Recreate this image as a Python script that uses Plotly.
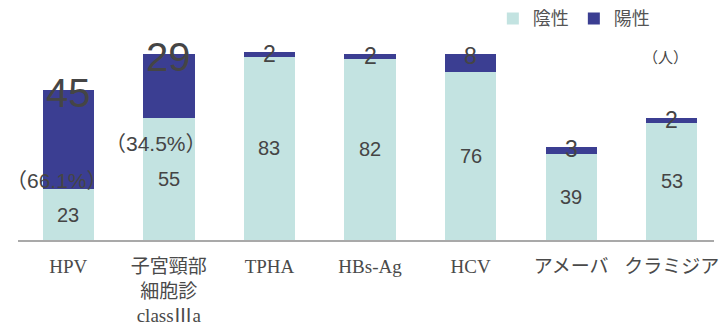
import plotly.graph_objects as go

# Test results: negative / positive counts per screening item
categories = ["HPV", "子宮頸部<br>細胞診<br>classⅢa", "TPHA", "HBs-Ag", "HCV", "アメーバ", "クラミジア"]
negative = [23, 55, 83, 82, 76, 39, 53]
positive = [45, 29, 2, 2, 8, 3, 2]
pct_labels = ["（66.1%）", "（34.5%）"]

NEG_COLOR = "#c3e3e1"
POS_COLOR = "#3b3e92"
TEXT_COLOR = "#454545"

fig = go.Figure()
fig.add_trace(go.Bar(x=categories, y=negative, name="陰性", marker_color=NEG_COLOR,
                     marker_line_width=0))
fig.add_trace(go.Bar(x=categories, y=positive, name="陽性", marker_color=POS_COLOR,
                     marker_line_width=0))

annotations = []
# counts inside the negative segments
for c, n in zip(categories, negative):
    annotations.append(dict(x=c, y=n / 2, text=str(n), showarrow=False,
                            font=dict(size=20, color=TEXT_COLOR, family="Liberation Sans, Arial")))
# positive counts sit on top edge of each stack
for i, (c, n, p) in enumerate(zip(categories, negative, positive)):
    big = i < 2
    annotations.append(dict(x=c, y=n + p, text=str(p), showarrow=False, yanchor="middle",
                            yshift=-3 if big else -2,
                            font=dict(size=40 if big else 23, color=TEXT_COLOR,
                                      family="Liberation Sans, Arial")))
# positive-rate labels
pct_shift = [(-11, 9), (-13, -25)]
for c, n, txt, (dx, dy) in zip(categories, negative, pct_labels, pct_shift):
    annotations.append(dict(x=c, y=n, text=txt, showarrow=False, xshift=dx, yshift=dy,
                            font=dict(size=21, color=TEXT_COLOR, family="Liberation Sans, Noto Sans CJK JP")))
# unit label
annotations.append(dict(x=0.93, y=0.84, xref="paper", yref="paper", text="（人）", showarrow=False,
                        xanchor="center", yanchor="middle",
                        font=dict(size=15, color=TEXT_COLOR, family="Noto Sans CJK JP")))

fig.update_layout(
    width=719, height=328,
    margin=dict(l=18, r=0, t=20, b=88),
    paper_bgcolor="white", plot_bgcolor="white",
    barmode="stack", bargap=0.49,
    showlegend=True,
    legend=dict(orientation="h", x=0.915, xanchor="right", y=1.095, yanchor="top",
                font=dict(size=18, color="#555555", family="Noto Sans CJK JP"),
                itemwidth=30, traceorder="normal", bgcolor="rgba(0,0,0,0)"),
    annotations=annotations,
    font=dict(family="Liberation Serif, Noto Sans CJK JP", color=TEXT_COLOR),
)
fig.update_xaxes(range=[-0.5, 6.42], showline=True, linecolor="#a9a9a9", linewidth=2,
                 ticks="", ticklabelstandoff=8,
                 tickfont=dict(size=19, family="Liberation Serif, Noto Sans CJK JP", color="#4a4a4a"))
fig.update_yaxes(range=[0, 99.1], showgrid=False, showticklabels=False, zeroline=False)

fig.write_html("out.html")
